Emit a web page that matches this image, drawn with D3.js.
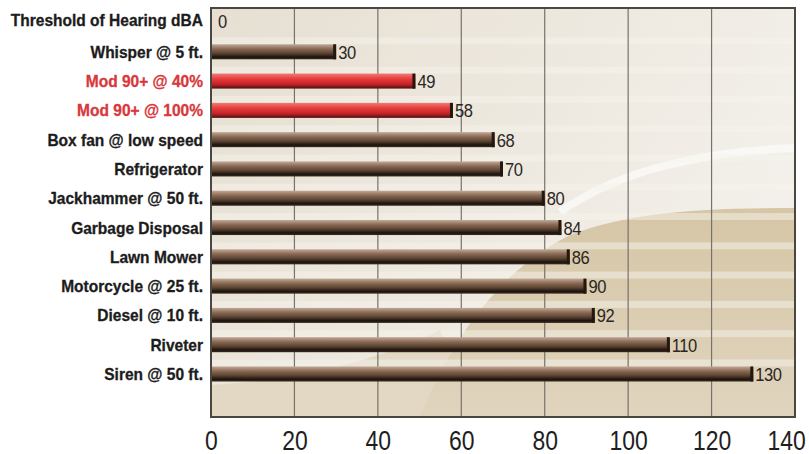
<!DOCTYPE html>
<html lang="en">
<head>
	<meta charset="UTF-8">
	<title>Noise levels</title>
	<script src="https://cdn.jsdelivr.net/npm/d3@7"></script>
</head>
<style>
	body { margin: 0; background: #fff; }
</style>
<body>
	<script type="text/javascript">
		var width = 809;
		var height = 454;

		// data
		var categories = ["Threshold of Hearing dBA", "Whisper @ 5 ft.", "Mod 90+ @ 40%", "Mod 90+ @ 100%",
			"Box fan @ low speed", "Refrigerator", "Jackhammer @ 50 ft.", "Garbage Disposal",
			"Lawn Mower", "Motorcycle @ 25 ft.", "Diesel @ 10 ft.", "Riveter", "Siren @ 50 ft."];
		var values = [0, 30, 49, 58, 68, 70, 80, 84, 86, 90, 92, 110, 130];
		var highlighted = ["Mod 90+ @ 40%", "Mod 90+ @ 100%"];
		var xTicks = [0, 20, 40, 60, 80, 100, 120, 140];

		var pLeft = 211, pRight = 795, pTop = 8, pBottom = 417;
		var barH = 15;

		var rows = categories.map(function(c, i){ return {name: c, value: values[i]}; });

		var svg = d3.select('body')
					.append('svg')
					.attr('width', width)
					.attr('height', height);

		var x = d3.scaleLinear().domain([0, 140]).range([pLeft, pRight]);
		// row centres
		var y = d3.scalePoint().domain(categories).range([22.5, 374]);

		var defs = svg.append('defs');

		var bg = defs.append('linearGradient').attr('id', 'bg').attr('x1', 0).attr('y1', 0).attr('x2', 1).attr('y2', 0.4);
		bg.append('stop').attr('offset', '0%').attr('stop-color', '#e6dfd2');
		bg.append('stop').attr('offset', '60%').attr('stop-color', '#eee9e0');
		bg.append('stop').attr('offset', '100%').attr('stop-color', '#f3f0eb');

		var tan = defs.append('linearGradient').attr('id', 'tan').attr('x1', 0).attr('y1', 0).attr('x2', 0).attr('y2', 1);
		tan.append('stop').attr('offset', '0%').attr('stop-color', '#d6c6a6');
		tan.append('stop').attr('offset', '100%').attr('stop-color', '#e0d4be');

		var brown = defs.append('linearGradient').attr('id', 'brown').attr('x1', 0).attr('y1', 0).attr('x2', 0).attr('y2', 1);
		brown.append('stop').attr('offset', '0%').attr('stop-color', '#c2a898');
		brown.append('stop').attr('offset', '30%').attr('stop-color', '#8a6b55');
		brown.append('stop').attr('offset', '60%').attr('stop-color', '#5c4432');
		brown.append('stop').attr('offset', '85%').attr('stop-color', '#1c140e');
		brown.append('stop').attr('offset', '100%').attr('stop-color', '#3a2a1e');

		var red = defs.append('linearGradient').attr('id', 'red').attr('x1', 0).attr('y1', 0).attr('x2', 0).attr('y2', 1);
		red.append('stop').attr('offset', '0%').attr('stop-color', '#f27a74');
		red.append('stop').attr('offset', '35%').attr('stop-color', '#e63c3c');
		red.append('stop').attr('offset', '72%').attr('stop-color', '#c42226');
		red.append('stop').attr('offset', '100%').attr('stop-color', '#4a1010');

		// plot background
		svg.append('rect')
		   .attr('x', pLeft).attr('y', pTop)
		   .attr('width', pRight - pLeft).attr('height', pBottom - pTop)
		   .attr('fill', 'url(#bg)');

		// soft beige at the bottom left
		svg.append('path')
		   .attr('d', 'M' + pLeft + ',' + pBottom + ' L' + pLeft + ',385 C 300,380 380,360 440,330 L 480,' + pBottom + ' Z')
		   .attr('fill', '#e2d8c4');

		// darker tan swoosh in the lower right
		svg.append('path')
		   .attr('d', 'M 420,' + pBottom + ' C 450,340 500,270 570,235 C 630,212 700,208 ' + pRight + ',208 L' + pRight + ',' + pBottom + ' Z')
		   .attr('fill', 'url(#tan)');
		// white arc
		svg.append('path')
		   .attr('d', 'M 560,212 C 620,170 700,152 ' + pRight + ',148')
		   .attr('fill', 'none').attr('stroke', '#f9f8f5').attr('stroke-width', 8).attr('opacity', 0.9);

		// light stripes behind the bars
		svg.selectAll('rect.stripe')
		   .data(rows.slice(1))
		   .enter()
		   .append('rect')
		   .attr('class', 'stripe')
		   .attr('x', pLeft).attr('width', pRight - pLeft)
		   .attr('y', function(d){ return y(d.name) - barH / 2 - 7; })
		   .attr('height', 7)
		   .attr('fill', '#f6f3ec').attr('opacity', 0.5);

		// gridlines
		svg.selectAll('line.grid')
		   .data(xTicks.slice(1, -1))
		   .enter()
		   .append('line')
		   .attr('class', 'grid')
		   .attr('x1', function(d){ return x(d); })
		   .attr('x2', function(d){ return x(d); })
		   .attr('y1', pTop).attr('y2', pBottom)
		   .attr('stroke', '#77726a').attr('stroke-width', 1.2);

		// bars
		svg.selectAll('rect.bar')
		   .data(rows)
		   .enter()
		   .append('rect')
		   .attr('class', 'bar')
		   .attr('x', x(0))
		   .attr('y', function(d){ return y(d.name) - barH / 2; })
		   .attr('width', function(d){ return x(d.value) - x(0); })
		   .attr('height', barH)
		   .attr('fill', function(d){
		   		return highlighted.indexOf(d.name) >= 0 ? 'url(#red)' : 'url(#brown)';
		   });

		// dark end caps
		svg.selectAll('rect.cap')
		   .data(rows.filter(function(d){ return d.value > 0; }))
		   .enter()
		   .append('rect')
		   .attr('class', 'cap')
		   .attr('x', function(d){ return x(d.value) - 3; })
		   .attr('y', function(d){ return y(d.name) - barH / 2; })
		   .attr('width', 3)
		   .attr('height', barH)
		   .attr('fill', '#231810');

		// value labels
		svg.selectAll('text.val')
		   .data(rows)
		   .enter()
		   .append('text')
		   .attr('class', 'val')
		   .attr('transform', function(d){
		   		var tx = d.value === 0 ? x(0) + 7 : x(d.value) + 2;
		   		return 'translate(' + tx + ',' + (y(d.name) + 7 - (d.value === 0 ? 2 : 0)) + ') scale(0.92,1)';
		   })
		   .attr('font-family', 'Liberation Sans, Arial, sans-serif')
		   .attr('font-size', 18)
		   .attr('letter-spacing', -0.5)
		   .attr('fill', '#2a2622')
		   .text(function(d){ return d.value; });

		// frame
		svg.append('rect')
		   .attr('x', pLeft).attr('y', pTop)
		   .attr('width', pRight - pLeft).attr('height', pBottom - pTop)
		   .attr('fill', 'none').attr('stroke', '#4a4640').attr('stroke-width', 2);

		// category labels
		svg.selectAll('text.cat')
		   .data(categories)
		   .enter()
		   .append('text')
		   .attr('class', 'cat')
		   .attr('transform', function(d, i){
		   		return 'translate(' + (pLeft - 8) + ',' + (y(d) + 6 - (i === 0 ? 3 : 0)) + ') scale(0.97,1)';
		   })
		   .attr('text-anchor', 'end')
		   .attr('font-family', 'Liberation Sans, Arial, sans-serif')
		   .attr('font-weight', 'bold')
		   .attr('font-size', 16)
		   .attr('fill', function(d){ return highlighted.indexOf(d) >= 0 ? '#d8383c' : '#1c1c1c'; })
		   .attr('stroke', function(d){ return highlighted.indexOf(d) >= 0 ? '#d8383c' : '#1c1c1c'; })
		   .attr('stroke-width', 0.3)
		   .text(function(d){ return d; });

		// x axis
		var axis = d3.axisBottom(x).tickValues(xTicks).tickSize(0).tickPadding(0);
		var gx = svg.append('g')
		   .attr('transform', 'translate(0,' + pBottom + ')')
		   .call(axis);
		gx.select('.domain').remove();
		gx.selectAll('text')
		  .attr('dy', null)
		  .attr('y', 0)
		  .attr('transform', 'translate(0,33) scale(0.85,1)')
		  .attr('font-family', 'Liberation Sans, Arial, sans-serif')
		  .attr('font-size', 27)
		  .attr('fill', '#1e1e1e');
		gx.selectAll('.tick').filter(function(d){ return d === 140; })
		  .select('text').attr('text-anchor', 'end').attr('x', 12);
	</script>
</body>
</html>
